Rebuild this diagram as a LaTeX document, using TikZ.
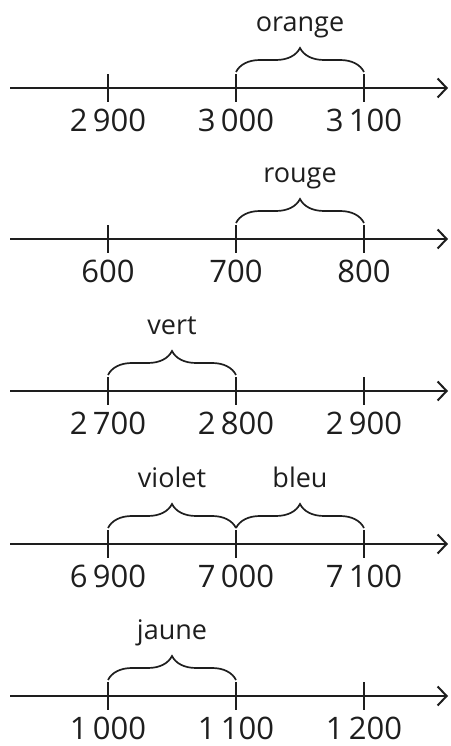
\documentclass[tikz,border=0pt]{standalone}
\usepackage{fontspec}
\setmainfont{Open Sans}
\usetikzlibrary{arrows.meta,decorations.pathreplacing}
\definecolor{ink}{HTML}{1E1E1E}
\begin{document}
\begin{tikzpicture}[x=1pt,y=1pt,
  axis/.style={draw=ink,line width=2pt,-{Straight Barb[length=9pt,width=19pt]}},
  tickline/.style={draw=ink,line width=2pt},
  brc/.style={draw=ink,decorate,decoration={brace,amplitude=24pt},line width=1.7pt},
  num/.style={anchor=base,text=ink,inner sep=0pt,font=\fontsize{31}{33}\selectfont},
  lab/.style={anchor=base,text=ink,inner sep=0pt,font=\fontsize{27}{30}\selectfont}]
\useasboundingbox (0,0) rectangle (450,746);
\foreach \r/\y/\a/\b/\c in {1/658/2\thinspace900/3\thinspace000/3\thinspace100,
                             2/507/600/700/800,
                             3/355/2\thinspace700/2\thinspace800/2\thinspace900,
                             4/202/6\thinspace900/7\thinspace000/7\thinspace100,
                             5/50/1\thinspace000/1\thinspace100/1\thinspace200}{
  \coordinate (s\r) at (10,\y);
  \coordinate (e\r) at (448,\y);
  \draw[axis] (s\r) -- (e\r);
  \foreach \k/\x in {1/108,2/236,3/364}{
    \coordinate (lo\r\k) at (\x,\y-14);
    \coordinate (hi\r\k) at (\x,\y+14);
    \coordinate (br\r\k) at (\x,\y+16);
    \draw[tickline] (lo\r\k) -- (hi\r\k);
  }
  \node[num] (n\r1) at (108,\y-44) {\a};
  \node[num] (n\r2) at (236,\y-44) {\b};
  \node[num] (n\r3) at (364,\y-44) {\c};
}
% braces and labels
\draw[brc] (br12) -- (br13);
\node[lab] (orange) at (300,658+56) {orange};
\draw[brc] (br22) -- (br23);
\node[lab] (rouge) at (300,507+56) {rouge};
\draw[brc] (br31) -- (br32);
\node[lab] (vert) at (172,355+56) {vert};
\draw[brc] (br41) -- (br42);
\node[lab] (violet) at (172,202+56) {violet};
\draw[brc] (br42) -- (br43);
\node[lab] (bleu) at (300,202+56) {bleu};
\draw[brc] (br51) -- (br52);
\node[lab] (jaune) at (172,50+56) {jaune};
\end{tikzpicture}
\end{document}
